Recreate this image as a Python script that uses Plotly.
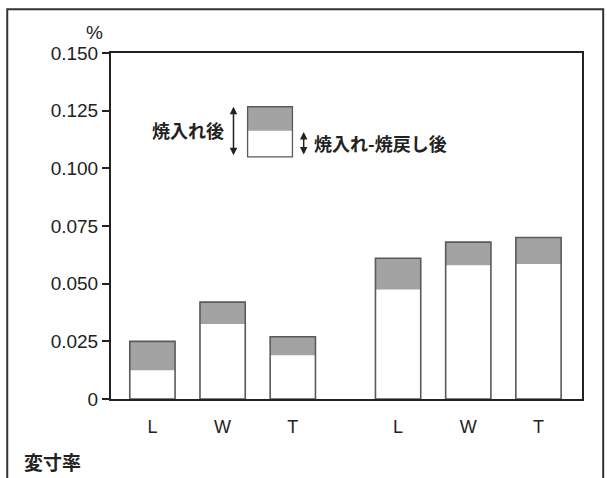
import plotly.graph_objects as go

# ---- data ----
groups = ["A", "B"]
directions = ["L", "W", "T"]
after_quench = [0.025, 0.042, 0.027, 0.061, 0.068, 0.070]        # 焼入れ後 (total)
after_temper = [0.0125, 0.0325, 0.019, 0.0475, 0.058, 0.0585]    # 焼入れ-焼戻し後
y_ticks = [0, 0.025, 0.05, 0.075, 0.1, 0.125, 0.15]
y_ticktext = ["0", "0.025", "0.050", "0.075", "0.100", "0.125", "0.150"]
legend_labels = ["焼入れ後", "焼入れ-焼戻し後"]

# positions: groups separated by a gap
GAP = 1.5
xpos = []
xlabels = []
for gi, g in enumerate(groups):
    for di, d in enumerate(directions):
        xpos.append(gi * (len(directions) - 1 + GAP) + di)
        xlabels.append(d)

BAR_W = 0.645
GRAY = "#a3a3a3"
EDGE = "#5a5a5a"
FONT = "Liberation Sans, Arial, sans-serif"
JFONT = "Noto Sans CJK JP, sans-serif"

fig = go.Figure()
fig.add_trace(go.Bar(x=xpos, y=after_quench, width=BAR_W,
                     marker=dict(color=GRAY, line=dict(width=0)), showlegend=False))
fig.add_trace(go.Bar(x=xpos, y=after_temper, width=BAR_W,
                     marker=dict(color="white", line=dict(width=0)), showlegend=False))
fig.add_trace(go.Bar(x=xpos, y=after_quench, width=BAR_W,
                     marker=dict(color="rgba(0,0,0,0)", line=dict(width=1.6, color=EDGE)),
                     showlegend=False))

fig.update_layout(
    barmode="overlay",
    width=607, height=478,
    margin=dict(l=111, r=25, t=53, b=79),
    paper_bgcolor="white", plot_bgcolor="white",
    font=dict(family=FONT, color="#222"),
    xaxis=dict(range=[-0.59, 6.12], tickvals=xpos, ticktext=xlabels,
               showgrid=False, zeroline=False, showline=True, linecolor="#222",
               linewidth=2, mirror=True, ticks="", ticklabelstandoff=10,
               tickfont=dict(size=18, color="#222")),
    yaxis=dict(range=[0, 0.15], tickvals=y_ticks, ticktext=y_ticktext,
               showgrid=False, zeroline=False, showline=True, linecolor="#222",
               linewidth=2, mirror=True, ticks="outside", ticklen=7, tickwidth=1.5,
               tickcolor="#222", tickfont=dict(size=19, color="#222")),
)

# legend drawn in plot
lx0, lx1 = 1.356, 1.995
ly_top, ly_mid, ly_bot = 0.1267, 0.1163, 0.105
fig.add_shape(type="rect", xref="x", yref="y", x0=lx0, x1=lx1, y0=ly_mid, y1=ly_top,
              fillcolor=GRAY, line=dict(width=0))
fig.add_shape(type="rect", xref="x", yref="y", x0=lx0, x1=lx1, y0=ly_bot, y1=ly_top,
              fillcolor="rgba(0,0,0,0)", line=dict(width=1.3, color=EDGE))
# arrows
ax_left = 1.155
ax_right = 2.155
fig.add_annotation(x=ax_left, y=ly_top, ax=ax_left, ay=ly_bot, xref="x", yref="y",
                   axref="x", ayref="y", text="", showarrow=True, arrowhead=2,
                   arrowside="end+start", arrowsize=1, arrowwidth=1.5, arrowcolor="#222")
fig.add_annotation(x=ax_right, y=ly_mid - 0.0005, ax=ax_right, ay=ly_bot + 0.0003, xref="x", yref="y",
                   axref="x", ayref="y", text="", showarrow=True, arrowhead=2,
                   arrowside="end+start", arrowsize=1, arrowwidth=1.5, arrowcolor="#222")
fig.add_annotation(x=1.05, y=(ly_top + ly_bot) / 2 + 0.0007, xref="x", yref="y",
                   text=legend_labels[0], showarrow=False, xanchor="right", yanchor="middle",
                   font=dict(family=JFONT, size=18, color="#222", weight=700))
fig.add_annotation(x=2.27, y=(ly_mid + ly_bot) / 2 + 0.0003, xref="x", yref="y",
                   text=legend_labels[1], showarrow=False, xanchor="left", yanchor="middle",
                   font=dict(family=JFONT, size=18, color="#222", weight=700))

# unit and caption
fig.add_annotation(x=-0.035, y=1.058, xref="paper", yref="paper", text="%",
                   showarrow=False, xanchor="center", yanchor="middle",
                   font=dict(size=19, color="#222"))
fig.add_annotation(x=-0.188, y=-0.182, xref="paper", yref="paper", text="変寸率",
                   showarrow=False, xanchor="left", yanchor="middle",
                   font=dict(family=JFONT, size=19, color="#222", weight=700))

# outer frame
fig.add_shape(type="rect", xref="paper", yref="paper", x0=-0.2203, x1=1.045,
              y0=-0.3, y1=1.1268, line=dict(width=2, color="#333"), layer="below")

fig.write_html("out.html", config={"displayModeBar": False},
               post_script="document.body.style.margin='0';")
